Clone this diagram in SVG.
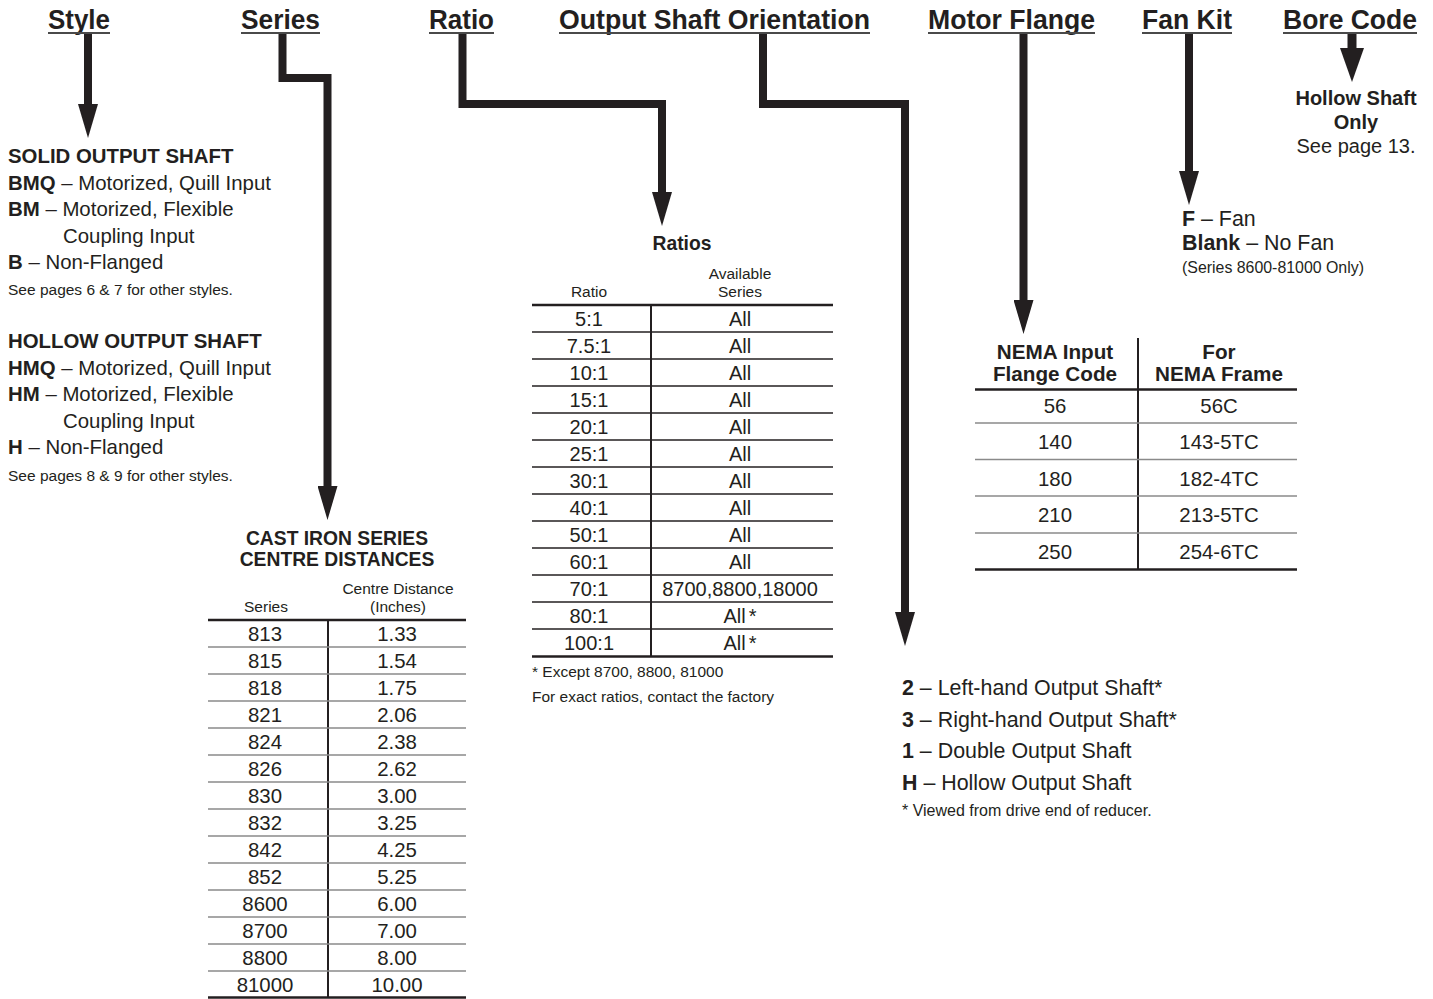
<svg xmlns="http://www.w3.org/2000/svg" width="1433" height="999" viewBox="0 0 1433 999">
<style>
text{font-family:"Liberation Sans",Arial,Helvetica,sans-serif;fill:#231f20}
.h{font-size:27px;font-weight:bold;text-anchor:middle}
.ul{stroke:#4a4a4a;stroke-width:2}
.t{font-size:20px}
.st{font-size:20.4px}
.big{font-size:21.4px}
.s{font-size:15.5px}
.s2{font-size:16px}
.b{font-weight:bold}
.c{text-anchor:middle}
.tt{font-size:19.3px;font-weight:bold;text-anchor:middle}
.conn{fill:none;stroke:#231f20;stroke-width:8;stroke-linejoin:miter}
.thick{stroke:#231f20;stroke-width:2.5}
.div{stroke:#231f20;stroke-width:2}
.gray{stroke:#8a8a8a;stroke-width:1.6}
.dark{stroke:#231f20;stroke-width:1.6}
</style>
<defs>
<marker id="ah" viewBox="0 -10 34 20" refX="0" refY="0" markerWidth="34" markerHeight="20" markerUnits="userSpaceOnUse" orient="auto"><polygon points="0,-10 34,0 0,10" fill="#231f20"/></marker>
<marker id="ahL" viewBox="0 -12 34 24" refX="0" refY="0" markerWidth="34" markerHeight="24" markerUnits="userSpaceOnUse" orient="auto"><polygon points="0,-12 34,0 0,12" fill="#231f20"/></marker>
</defs>
<rect width="1433" height="999" fill="#ffffff"/>

<g id="headers">
<text class="h" x="79" y="29" textLength="62" lengthAdjust="spacingAndGlyphs">Style</text>
<line class="ul" x1="48" y1="33" x2="110" y2="33"/>
<text class="h" x="280.5" y="29" textLength="79" lengthAdjust="spacingAndGlyphs">Series</text>
<line class="ul" x1="241" y1="33" x2="320" y2="33"/>
<text class="h" x="461.5" y="29" textLength="65" lengthAdjust="spacingAndGlyphs">Ratio</text>
<line class="ul" x1="429" y1="33" x2="494" y2="33"/>
<text class="h" x="714.5" y="29" textLength="311" lengthAdjust="spacingAndGlyphs">Output Shaft Orientation</text>
<line class="ul" x1="559" y1="33" x2="870" y2="33"/>
<text class="h" x="1011.5" y="29" textLength="167" lengthAdjust="spacingAndGlyphs">Motor Flange</text>
<line class="ul" x1="928" y1="33" x2="1095" y2="33"/>
<text class="h" x="1187" y="29" textLength="90" lengthAdjust="spacingAndGlyphs">Fan Kit</text>
<line class="ul" x1="1142" y1="33" x2="1232" y2="33"/>
<text class="h" x="1350" y="29" textLength="134" lengthAdjust="spacingAndGlyphs">Bore Code</text>
<line class="ul" x1="1283" y1="33" x2="1417" y2="33"/>
</g>

<g id="connectors">
<path class="conn" d="M88,34 V104" marker-end="url(#ah)"/>
<path class="conn" d="M282.5,34 V78 H327.5 V486" marker-end="url(#ah)"/>
<path class="conn" d="M462.5,34 V104 H662 V192" marker-end="url(#ah)"/>
<path class="conn" d="M763,34 V104 H905 V612" marker-end="url(#ah)"/>
<path class="conn" d="M1023.5,34 V300" marker-end="url(#ah)"/>
<path class="conn" d="M1189,34 V171" marker-end="url(#ah)"/>
<path class="conn" style="stroke-width:9" d="M1352,34 V48" marker-end="url(#ahL)"/>
</g>

<g id="style-options">
<text class="st b" x="8" y="163">SOLID OUTPUT SHAFT</text>
<text class="st" x="8" y="189.5"><tspan class="b">BMQ</tspan> – Motorized, Quill Input</text>
<text class="st" x="8" y="216"><tspan class="b">BM</tspan> – Motorized, Flexible</text>
<text class="st" x="63" y="242.5">Coupling Input</text>
<text class="st" x="8" y="269"><tspan class="b">B</tspan> – Non-Flanged</text>
<text class="s" x="8" y="295">See pages 6 &amp; 7 for other styles.</text>
<text class="st b" x="8" y="348">HOLLOW OUTPUT SHAFT</text>
<text class="st" x="8" y="374.5"><tspan class="b">HMQ</tspan> – Motorized, Quill Input</text>
<text class="st" x="8" y="401"><tspan class="b">HM</tspan> – Motorized, Flexible</text>
<text class="st" x="63" y="427.5">Coupling Input</text>
<text class="st" x="8" y="454"><tspan class="b">H</tspan> – Non-Flanged</text>
<text class="s" x="8" y="481">See pages 8 &amp; 9 for other styles.</text>
</g>

<g id="series-table">
<text class="tt" x="337" y="545">CAST IRON SERIES</text>
<text class="tt" x="337" y="566">CENTRE DISTANCES</text>
<text class="s c" x="398" y="594">Centre Distance</text>
<text class="s c" x="398" y="612">(Inches)</text>
<text class="s c" x="266" y="612">Series</text>
<line class="thick" x1="208" y1="620" x2="466" y2="620"/>
<line class="div" x1="328" y1="620" x2="328" y2="998"/>
<g class="gray">
<line x1="208" y1="647" x2="466" y2="647"/><line x1="208" y1="674" x2="466" y2="674"/><line x1="208" y1="701" x2="466" y2="701"/><line x1="208" y1="728" x2="466" y2="728"/><line x1="208" y1="755" x2="466" y2="755"/><line x1="208" y1="782" x2="466" y2="782"/><line x1="208" y1="809" x2="466" y2="809"/><line x1="208" y1="836" x2="466" y2="836"/><line x1="208" y1="863" x2="466" y2="863"/><line x1="208" y1="890" x2="466" y2="890"/><line x1="208" y1="917" x2="466" y2="917"/><line x1="208" y1="944" x2="466" y2="944"/><line x1="208" y1="971" x2="466" y2="971"/>
</g>
<line class="thick" x1="208" y1="997.5" x2="466" y2="997.5"/>
<g class="st c">
<text x="265" y="640.5">813</text><text x="397" y="640.5">1.33</text>
<text x="265" y="667.5">815</text><text x="397" y="667.5">1.54</text>
<text x="265" y="694.5">818</text><text x="397" y="694.5">1.75</text>
<text x="265" y="721.5">821</text><text x="397" y="721.5">2.06</text>
<text x="265" y="748.5">824</text><text x="397" y="748.5">2.38</text>
<text x="265" y="775.5">826</text><text x="397" y="775.5">2.62</text>
<text x="265" y="802.5">830</text><text x="397" y="802.5">3.00</text>
<text x="265" y="829.5">832</text><text x="397" y="829.5">3.25</text>
<text x="265" y="856.5">842</text><text x="397" y="856.5">4.25</text>
<text x="265" y="883.5">852</text><text x="397" y="883.5">5.25</text>
<text x="265" y="910.5">8600</text><text x="397" y="910.5">6.00</text>
<text x="265" y="937.5">8700</text><text x="397" y="937.5">7.00</text>
<text x="265" y="964.5">8800</text><text x="397" y="964.5">8.00</text>
<text x="265" y="991.5">81000</text><text x="397" y="991.5">10.00</text>
</g>
</g>

<g id="ratio-table">
<text class="tt" x="682" y="250">Ratios</text>
<text class="s c" x="740" y="279">Available</text>
<text class="s c" x="740" y="297">Series</text>
<text class="s c" x="589" y="297">Ratio</text>
<line class="thick" x1="532" y1="305" x2="833" y2="305"/>
<line class="div" x1="651" y1="305" x2="651" y2="656"/>
<g class="dark">
<line x1="532" y1="332" x2="833" y2="332"/><line x1="532" y1="359" x2="833" y2="359"/><line x1="532" y1="386" x2="833" y2="386"/><line x1="532" y1="413" x2="833" y2="413"/><line x1="532" y1="440" x2="833" y2="440"/><line x1="532" y1="467" x2="833" y2="467"/><line x1="532" y1="494" x2="833" y2="494"/><line x1="532" y1="521" x2="833" y2="521"/><line x1="532" y1="548" x2="833" y2="548"/><line x1="532" y1="575" x2="833" y2="575"/><line x1="532" y1="602" x2="833" y2="602"/><line x1="532" y1="629" x2="833" y2="629"/>
</g>
<line class="thick" x1="532" y1="656.5" x2="833" y2="656.5"/>
<g class="t c">
<text x="589" y="325.5">5:1</text><text x="740" y="325.5">All</text>
<text x="589" y="352.5">7.5:1</text><text x="740" y="352.5">All</text>
<text x="589" y="379.5">10:1</text><text x="740" y="379.5">All</text>
<text x="589" y="406.5">15:1</text><text x="740" y="406.5">All</text>
<text x="589" y="433.5">20:1</text><text x="740" y="433.5">All</text>
<text x="589" y="460.5">25:1</text><text x="740" y="460.5">All</text>
<text x="589" y="487.5">30:1</text><text x="740" y="487.5">All</text>
<text x="589" y="514.5">40:1</text><text x="740" y="514.5">All</text>
<text x="589" y="541.5">50:1</text><text x="740" y="541.5">All</text>
<text x="589" y="568.5">60:1</text><text x="740" y="568.5">All</text>
<text x="589" y="595.5">70:1</text><text x="740" y="595.5">8700,8800,18000</text>
<text x="589" y="622.5">80:1</text><text x="740" y="622.5">All<tspan dx="3">*</tspan></text>
<text x="589" y="649.5">100:1</text><text x="740" y="649.5">All<tspan dx="3">*</tspan></text>
</g>
<text class="s" x="532" y="677">* Except 8700, 8800, 81000</text>
<text class="s" x="532" y="702">For exact ratios, contact the factory</text>
</g>

<g id="orientation-options">
<text class="big" x="902" y="695"><tspan class="b">2</tspan> – Left-hand Output Shaft*</text>
<text class="big" x="902" y="727"><tspan class="b">3</tspan> – Right-hand Output Shaft*</text>
<text class="big" x="902" y="758"><tspan class="b">1</tspan> – Double Output Shaft</text>
<text class="big" x="902" y="790"><tspan class="b">H</tspan> – Hollow Output Shaft</text>
<text class="s2" x="902" y="816">* Viewed from drive end of reducer.</text>
</g>

<g id="motor-flange-table">
<g class="b c" style="font-size:20.7px">
<text x="1055" y="359">NEMA Input</text>
<text x="1055" y="381">Flange Code</text>
<text x="1219" y="359">For</text>
<text x="1219" y="381">NEMA Frame</text>
</g>
<line class="div" x1="1138" y1="338" x2="1138" y2="570"/>
<line class="thick" x1="975" y1="389.5" x2="1297" y2="389.5"/>
<g class="gray">
<line x1="975" y1="423" x2="1297" y2="423"/><line x1="975" y1="459.5" x2="1297" y2="459.5"/><line x1="975" y1="496" x2="1297" y2="496"/><line x1="975" y1="533" x2="1297" y2="533"/>
</g>
<line class="thick" x1="975" y1="569.5" x2="1297" y2="569.5"/>
<g class="st c">
<text x="1055" y="413">56</text><text x="1219" y="413">56C</text>
<text x="1055" y="449">140</text><text x="1219" y="449">143-5TC</text>
<text x="1055" y="486">180</text><text x="1219" y="486">182-4TC</text>
<text x="1055" y="522">210</text><text x="1219" y="522">213-5TC</text>
<text x="1055" y="559">250</text><text x="1219" y="559">254-6TC</text>
</g>
</g>

<g id="fan-kit-options">
<text class="big" x="1182" y="226"><tspan class="b">F</tspan> – Fan</text>
<text class="big" x="1182" y="250"><tspan class="b">Blank</tspan> – No Fan</text>
<text x="1182" y="273" style="font-size:15.9px">(Series 8600-81000 Only)</text>
</g>

<g id="bore-code-note">
<text class="t b c" x="1356" y="105">Hollow Shaft</text>
<text class="t b c" x="1356" y="129">Only</text>
<text class="t c" x="1356" y="153">See page 13.</text>
</g>
</svg>
